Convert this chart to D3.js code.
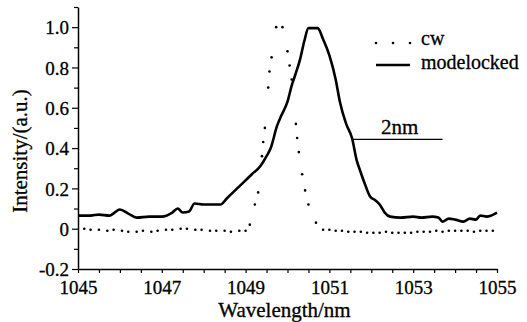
<!DOCTYPE html>
<html>
<head>
<meta charset="utf-8">
<script src="https://cdnjs.cloudflare.com/ajax/libs/d3/7.8.5/d3.min.js"></script>
<style>
  body { margin: 0; background: #fff; }
  svg { display: block; }
</style>
</head>
<body>
<script>
// modelocked spectrum (wavelength nm, intensity a.u.)
var mlWave = [1045.0, 1045.3, 1045.5, 1045.75, 1046.0, 1046.2, 1046.4, 1046.7, 1047.0, 1047.25,
  1047.38, 1047.5, 1047.65, 1047.78, 1048.0, 1048.4, 1048.55, 1048.7, 1048.95, 1049.15,
  1049.35, 1049.5, 1049.6, 1049.75, 1049.85, 1050.0, 1050.1, 1050.18, 1050.3, 1050.4,
  1050.5, 1050.72, 1050.85, 1051.0, 1051.15, 1051.25, 1051.4, 1051.54, 1051.65, 1051.73,
  1051.85, 1051.97, 1052.1, 1052.2, 1052.32, 1052.45, 1052.7, 1053.0, 1053.2, 1053.45,
  1053.6, 1053.7, 1053.85, 1054.0, 1054.2, 1054.35, 1054.5, 1054.6, 1054.75, 1055.0];
var mlVal = [0.065, 0.065, 0.07, 0.065, 0.095, 0.075, 0.055, 0.06, 0.06, 0.08,
  0.1, 0.08, 0.085, 0.125, 0.12, 0.12, 0.15, 0.18, 0.23, 0.27,
  0.31, 0.36, 0.40, 0.51, 0.56, 0.63, 0.71, 0.76, 0.84, 0.93,
  0.995, 0.995, 0.94, 0.86, 0.74, 0.63, 0.52, 0.45, 0.34, 0.29,
  0.22, 0.16, 0.14, 0.12, 0.08, 0.06, 0.055, 0.06, 0.055, 0.06,
  0.055, 0.035, 0.05, 0.045, 0.035, 0.05, 0.045, 0.065, 0.06, 0.08];

// cw spectrum, sampled points
var cwWave = [1045.15, 1045.3, 1045.5, 1045.7, 1045.85, 1046.05, 1046.2, 1046.4, 1046.55, 1046.75,
  1046.9, 1047.1, 1047.25, 1047.45, 1047.6, 1047.8, 1047.95, 1048.15, 1048.3, 1048.5,
  1048.65, 1048.85, 1049.0, 1049.1, 1049.22, 1049.3, 1049.39, 1049.42, 1049.46, 1049.54,
  1049.57, 1049.62, 1049.73, 1049.88, 1050.0, 1050.05, 1050.1, 1050.2, 1050.23, 1050.27,
  1050.35, 1050.42, 1050.5, 1050.68, 1050.85, 1051.0, 1051.15, 1051.3, 1051.45, 1051.6,
  1051.75, 1051.9, 1052.05, 1052.2, 1052.35, 1052.5, 1052.65, 1052.8, 1052.95, 1053.1,
  1053.25, 1053.4, 1053.55, 1053.7, 1053.85, 1054.0, 1054.15, 1054.3, 1054.45, 1054.6,
  1054.75, 1054.9];
var cwVal = [0.0, -0.005, -0.005, -0.01, -0.005, -0.01, -0.015, -0.015, -0.01, -0.015,
  -0.01, -0.005, -0.005, 0.0, 0.0, -0.005, -0.005, -0.01, -0.01, -0.01,
  -0.015, -0.01, -0.01, 0.02, 0.12, 0.18, 0.36, 0.43, 0.5, 0.7,
  0.78, 0.85, 1.0, 1.0, 0.88, 0.81, 0.74, 0.52, 0.45, 0.38,
  0.27, 0.19, 0.12, 0.03, -0.005, -0.005, -0.01, -0.01, -0.015, -0.015,
  -0.015, -0.02, -0.02, -0.02, -0.015, -0.02, -0.02, -0.02, -0.02, -0.015,
  -0.015, -0.015, -0.01, -0.015, -0.01, -0.01, -0.01, -0.01, -0.015, -0.01,
  -0.01, -0.01];

var xLabels = [1045, 1047, 1049, 1051, 1053, 1055];
var yLabels = [-0.2, 0, 0.2, 0.4, 0.6, 0.8, 1.0];
var legendNames = ["cw", "modelocked"];

// FWHM marker
var fwhmFrom = 1051.56, fwhmTo = 1053.7, fwhmLevel = 0.443, fwhmText = "2nm";

var W = 527, H = 322;
var FONT = "'Liberation Serif', 'Times New Roman', serif";
var svg = d3.select("body").append("svg")
  .attr("width", W).attr("height", H)
  .attr("font-family", FONT);

var x = d3.scaleLinear().domain([1045, 1055]).range([78, 497]);
var y = d3.scaleLinear().domain([-0.2, 1.1]).range([269, 7]);

function isLabel(list, d) {
  return list.some(function (v) { return Math.abs(v - d) < 1e-9; });
}

// x axis
var gx = svg.append("g").attr("transform", "translate(0," + y(-0.2) + ")");
gx.call(d3.axisBottom(x).tickValues(d3.range(1045, 1055.01, 0.5)).tickSize(4).tickSizeOuter(0).tickFormat(""));
gx.attr("font-family", FONT);
gx.selectAll(".tick").filter(function (d) { return isLabel(xLabels, d); })
  .append("text")
  .attr("y", 25)
  .attr("fill", "#000")
  .attr("text-anchor", "middle")
  .style("font-size", "19px")
  .text(function (d) { return d; });
gx.select(".domain").attr("stroke-width", 1.5);

// y axis
var gy = svg.append("g").attr("transform", "translate(" + x(1045) + ",0)");
gy.call(d3.axisLeft(y).tickValues(d3.range(-2, 12).map(function (d) { return d / 10; })).tickSize(4).tickSizeOuter(0).tickFormat(""));
gy.attr("font-family", FONT);
gy.selectAll(".tick line").attr("x2", function (d) { return isLabel(yLabels, d) ? -6 : -4; });
gy.selectAll(".tick").filter(function (d) { return isLabel(yLabels, d); })
  .append("text")
  .attr("x", -9)
  .attr("dy", "0.35em")
  .attr("fill", "#000")
  .attr("text-anchor", "end")
  .style("font-size", "19px")
  .text(function (d) { return d === 0 ? "0" : d.toFixed(1); });
gy.select(".domain").attr("stroke-width", 1.5);
svg.selectAll(".tick line").attr("stroke-width", 1.2);

// axis titles
svg.append("text")
  .attr("x", (x(1045) + x(1055)) / 2 - 3)
  .attr("y", 317)
  .attr("text-anchor", "middle")
  .style("font-size", "21px")
  .text("Wavelength/nm");

svg.append("text")
  .attr("transform", "translate(27,151) rotate(-90)")
  .attr("text-anchor", "middle")
  .style("font-size", "21px")
  .text("Intensity/(a.u.)");

// modelocked line
var ml = mlWave.map(function (w, i) { return [w, mlVal[i]]; });
var line = d3.line()
  .x(function (d) { return x(d[0]); })
  .y(function (d) { return y(d[1]); })
  .curve(d3.curveMonotoneX);
svg.append("path")
  .datum(ml)
  .attr("fill", "none")
  .attr("stroke", "#000")
  .attr("stroke-width", 2.6)
  .attr("stroke-linejoin", "round")
  .attr("d", line);

// cw dots
var cw = cwWave.map(function (w, i) { return [w, cwVal[i]]; });
svg.selectAll(".cw")
  .data(cw)
  .enter().append("circle")
  .attr("class", "cw")
  .attr("cx", function (d) { return x(d[0]); })
  .attr("cy", function (d) { return y(d[1]); })
  .attr("r", 1.3)
  .attr("fill", "#000");

// FWHM marker
svg.append("line")
  .attr("x1", x(fwhmFrom)).attr("x2", x(fwhmTo))
  .attr("y1", y(fwhmLevel)).attr("y2", y(fwhmLevel))
  .attr("stroke", "#000").attr("stroke-width", 1.2);
svg.append("text")
  .attr("x", x((fwhmFrom + fwhmTo) / 2) + 2)
  .attr("y", y(fwhmLevel) - 5)
  .attr("text-anchor", "middle")
  .style("font-size", "21px")
  .text(fwhmText);

// legend
var lg = svg.append("g").attr("transform", "translate(376,0)");
lg.selectAll(".ldot").data([0, 1, 2]).enter().append("circle")
  .attr("cx", function (d) { return d * 17; })
  .attr("cy", 43)
  .attr("r", 1.3)
  .attr("fill", "#000");
lg.append("line").attr("x1", 0).attr("x2", 34).attr("y1", 65).attr("y2", 65)
  .attr("stroke", "#000").attr("stroke-width", 2.4);
lg.selectAll(".ltxt").data(legendNames).enter().append("text")
  .attr("x", 45)
  .attr("y", function (d, i) { return 45 + i * 24; })
  .style("font-size", "20px")
  .text(function (d) { return d; });

// thicken glyphs a little, like the printed original
svg.selectAll("text").attr("stroke", "#000").attr("stroke-width", 0.3);
</script>
</body>
</html>
